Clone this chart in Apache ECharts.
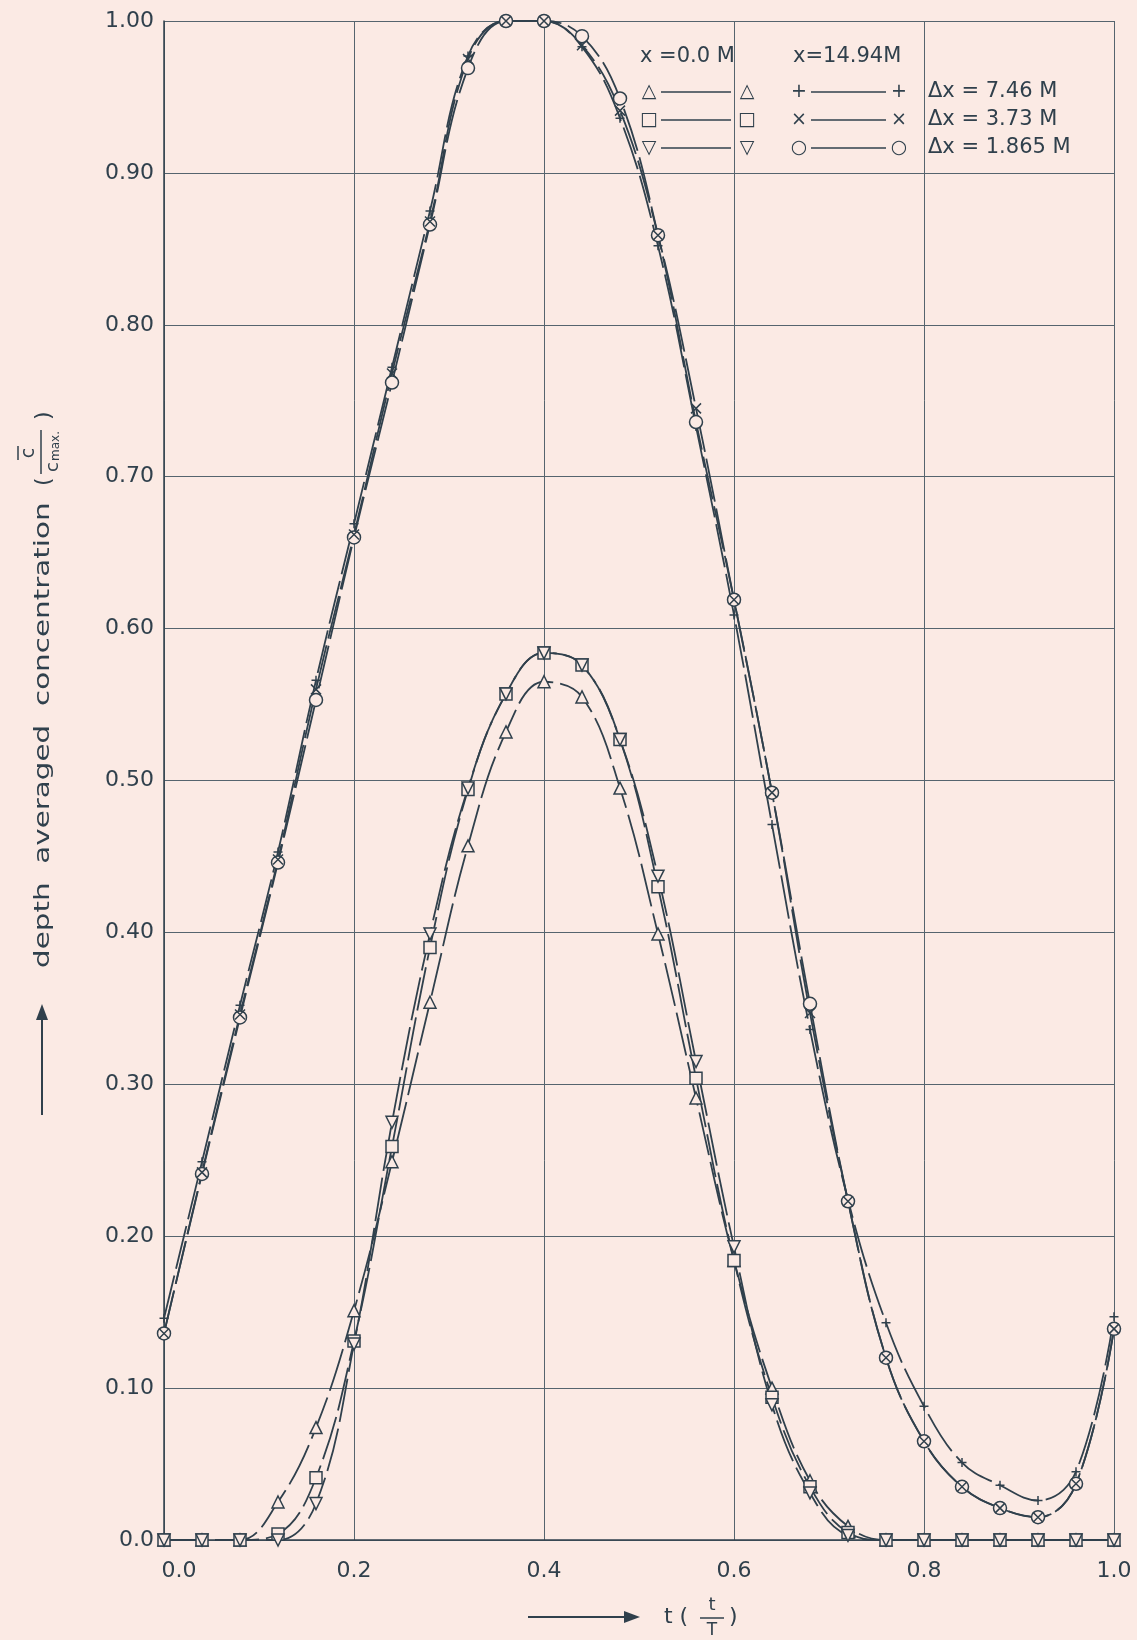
<!DOCTYPE html>
<html>
<head>
<meta charset="utf-8">
<title>depth averaged concentration</title>
<script src="https://cdn.jsdelivr.net/npm/echarts@6/dist/echarts.min.js"></script>
<style>
  html, body { margin: 0; padding: 0; background: #fbeae4; }
  #chart { width: 1137px; height: 1640px; }
</style>
</head>
<body>
<div id="chart"></div>
<script>
// time t/T of every plotted point
const tValues = [0.00, 0.04, 0.08, 0.12, 0.16, 0.20, 0.24, 0.28, 0.32, 0.36, 0.40, 0.44, 0.48,
                 0.52, 0.56, 0.60, 0.64, 0.68, 0.72, 0.76, 0.80, 0.84, 0.88, 0.92, 0.96, 1.00]

// x = 0.0 M
const triValues = [0, 0, 0, 0.025, 0.074, 0.151, 0.249, 0.354, 0.457, 0.532, 0.565, 0.555, 0.495,
                   0.399, 0.291, 0.184, 0.100, 0.039, 0.009, 0, 0, 0, 0, 0, 0, 0]       // dx = 7.46 M
const squareValues = [0, 0, 0, 0.004, 0.041, 0.131, 0.259, 0.390, 0.494, 0.557, 0.584, 0.576, 0.527,
                      0.430, 0.304, 0.184, 0.094, 0.035, 0.005, 0, 0, 0, 0, 0, 0, 0]  // dx = 3.73 M
const invTriValues = [0, 0, 0, 0, 0.024, 0.129, 0.275, 0.399, 0.495, 0.557, 0.584, 0.576, 0.527,
                      0.437, 0.315, 0.193, 0.089, 0.031, 0.003, 0, 0, 0, 0, 0, 0, 0]  // dx = 1.865 M

// x = 14.94 M
const plusValues = [0.146, 0.249, 0.352, 0.453, 0.566, 0.669, 0.772, 0.875, 0.977, 1.000, 1.000, 0.983, 0.936,
                    0.852, 0.733, 0.609, 0.471, 0.336, 0.224, 0.143, 0.088, 0.051, 0.036, 0.026, 0.045, 0.147]
const crossValues = [0.136, 0.242, 0.346, 0.448, 0.560, 0.662, 0.768, 0.868, 0.975, 1.000, 1.000, 0.984, 0.941,
                     0.859, 0.745, 0.619, 0.492, 0.347, 0.223, 0.120, 0.065, 0.035, 0.021, 0.015, 0.037, 0.139]
const circleValues = [0.136, 0.241, 0.344, 0.446, 0.553, 0.660, 0.762, 0.866, 0.969, 1.000, 1.000, 0.990, 0.949,
                      0.859, 0.736, 0.619, 0.492, 0.353, 0.223, 0.120, 0.065, 0.035, 0.021, 0.015, 0.037, 0.139]

const xTicks = ['0.0', '0.2', '0.4', '0.6', '0.8', '1.0']
const yTicks = ['0.0', '0.10', '0.20', '0.30', '0.40', '0.50', '0.60', '0.70', '0.80', '0.90', '1.00']

const bg = '#fbeae4'
const ink = '#30404c'
const gridInk = '#55646e'
const font = 'DejaVu Sans'

const PLUS = 'path://M5,0L5,10M0,5L10,5'
const CROSS = 'path://M0,0L10,10M10,0L0,10'

// one curve with hollow markers, drawn with long dashes like the hand-inked original
function curve (name, values, symbol, size, rotate) {
  return {
    name: name,
    type: 'line',
    smooth: 0.4,
    data: tValues.map((t, i) => [t, values[i]]),
    symbol: symbol,
    symbolSize: size,
    symbolRotate: rotate || 0,
    showAllSymbol: true,
    lineStyle: { color: ink, width: 1.8, type: [44, 7] },
    itemStyle: { color: bg, borderColor: ink, borderWidth: 1.5 },
    emphasis: { disabled: true },
    z: 3
  }
}

const chart = echarts.init(document.getElementById('chart'))

// legend block (drawn by hand, as on the original sheet)
const legendRows = [
  { y: 92, a: '△', b: '+', label: 'Δx = 7.46 M' },
  { y: 120, a: '□', b: '×', label: 'Δx = 3.73 M' },
  { y: 148, a: '▽', b: '○', label: 'Δx = 1.865 M' }
]
const legendGraphics = [
  { type: 'text', left: 640, top: 46, style: { text: 'x =0.0 M', font: '21px ' + font, fill: ink } },
  { type: 'text', left: 793, top: 46, style: { text: 'x=14.94M', font: '21px ' + font, fill: ink } }
]
legendRows.forEach(r => {
  const sym = (x, ch) => ({
    type: 'text', x: x, y: r.y,
    style: { text: ch, font: '19px ' + font, fill: ink, align: 'center', verticalAlign: 'middle' }
  })
  legendGraphics.push(
    sym(649, r.a),
    { type: 'line', shape: { x1: 661, y1: r.y, x2: 731, y2: r.y }, style: { stroke: ink, lineWidth: 1.5 } },
    sym(747, r.a),
    sym(799, r.b),
    { type: 'line', shape: { x1: 811, y1: r.y, x2: 886, y2: r.y }, style: { stroke: ink, lineWidth: 1.5 } },
    sym(899, r.b),
    { type: 'text', x: 928, y: r.y,
      style: { text: r.label, font: '21px ' + font, fill: ink, verticalAlign: 'middle' } }
  )
})

// x axis name:  ----> t ( t / T )
const xName = {
  type: 'group',
  children: [
    { type: 'line', shape: { x1: 528, y1: 1617, x2: 628, y2: 1617 }, style: { stroke: ink, lineWidth: 2 } },
    { type: 'polygon', shape: { points: [[640, 1617], [624, 1611], [624, 1623]] }, style: { fill: ink } },
    { type: 'text', x: 664, y: 1617, style: { text: 't (', font: '22px ' + font, fill: ink, verticalAlign: 'middle' } },
    { type: 'text', x: 712, y: 1605, style: { text: 't', font: '18px ' + font, fill: ink, align: 'center', verticalAlign: 'middle' } },
    { type: 'line', shape: { x1: 700, y1: 1618, x2: 724, y2: 1618 }, style: { stroke: ink, lineWidth: 1.5 } },
    { type: 'text', x: 712, y: 1631, style: { text: 'T', font: '17px ' + font, fill: ink, align: 'center', verticalAlign: 'middle' } },
    { type: 'text', x: 729, y: 1617, style: { text: ')', font: '22px ' + font, fill: ink, verticalAlign: 'middle' } }
  ]
}

// y axis name, written upwards, with its arrow below
const yName = {
  type: 'group',
  x: 44,
  y: 968,
  rotation: Math.PI / 2,
  children: [
    { type: 'text', x: 0, y: 0, scaleX: 1.4,
      style: { text: 'depth  averaged  concentration', font: '21px ' + font, fill: ink, verticalAlign: 'middle' } },
    { type: 'text', x: 482, y: 0, style: { text: '(', font: '22px ' + font, fill: ink, verticalAlign: 'middle' } },
    { type: 'text', x: 515, y: -15, style: { text: 'c', font: '19px ' + font, fill: ink, align: 'center', verticalAlign: 'middle' } },
    { type: 'line', shape: { x1: 508, y1: -26, x2: 522, y2: -26 }, style: { stroke: ink, lineWidth: 1.5 } },
    { type: 'line', shape: { x1: 494, y1: -3, x2: 538, y2: -3 }, style: { stroke: ink, lineWidth: 1.5 } },
    { type: 'text', x: 496, y: 9, style: { text: 'c', font: '18px ' + font, fill: ink, verticalAlign: 'middle' } },
    { type: 'text', x: 507, y: 12, style: { text: 'max.', font: '12px ' + font, fill: ink, verticalAlign: 'middle' } },
    { type: 'text', x: 548, y: 0, style: { text: ')', font: '22px ' + font, fill: ink, verticalAlign: 'middle' } }
  ]
}
const yArrow = {
  type: 'group',
  children: [
    { type: 'line', shape: { x1: 42, y1: 1115, x2: 42, y2: 1016 }, style: { stroke: ink, lineWidth: 2 } },
    { type: 'polygon', shape: { points: [[42, 1004], [36, 1020], [48, 1020]] }, style: { fill: ink } }
  ]
}

const option = {
  backgroundColor: bg,
  animation: false,
  textStyle: { fontFamily: font },
  grid: { left: 164, right: 23, top: 21, bottom: 100, containLabel: false },
  xAxis: {
    type: 'value',
    min: 0,
    max: 1,
    interval: 0.2,
    axisLine: { show: true, onZero: false, lineStyle: { color: ink, width: 1.5 } },
    axisTick: { show: false },
    splitLine: { show: true, lineStyle: { color: gridInk, width: 1 } },
    axisLabel: {
      margin: 20,
      fontSize: 22,
      color: ink,
      formatter: v => {
        const s = xTicks[Math.round(v / 0.2)]
        return v === 0 ? '{z|' + s + '}' : s
      },
      rich: { z: { fontSize: 22, color: ink, padding: [0, 0, 0, 30] } }
    }
  },
  yAxis: {
    type: 'value',
    min: 0,
    max: 1,
    interval: 0.1,
    axisLine: { show: true, onZero: false, lineStyle: { color: ink, width: 1.5 } },
    axisTick: { show: false },
    splitLine: { show: true, lineStyle: { color: gridInk, width: 1 } },
    axisLabel: {
      margin: 10,
      fontSize: 22,
      color: ink,
      formatter: v => yTicks[Math.round(v * 10)]
    }
  },
  series: [
    curve('Δx=7.46M, x=0.0M', triValues, 'triangle', 12),
    curve('Δx=3.73M, x=0.0M', squareValues, 'rect', 12),
    curve('Δx=1.865M, x=0.0M', invTriValues, 'triangle', 12, 180),
    curve('Δx=7.46M, x=14.94M', plusValues, PLUS, 9),
    curve('Δx=1.865M, x=14.94M', circleValues, 'circle', 13),
    curve('Δx=3.73M, x=14.94M', crossValues, CROSS, 10)
  ],
  graphic: legendGraphics.concat([xName, yName, yArrow])
}

chart.setOption(option)
window.onresize = function () {
  chart.resize()
}
</script>
</body>
</html>
